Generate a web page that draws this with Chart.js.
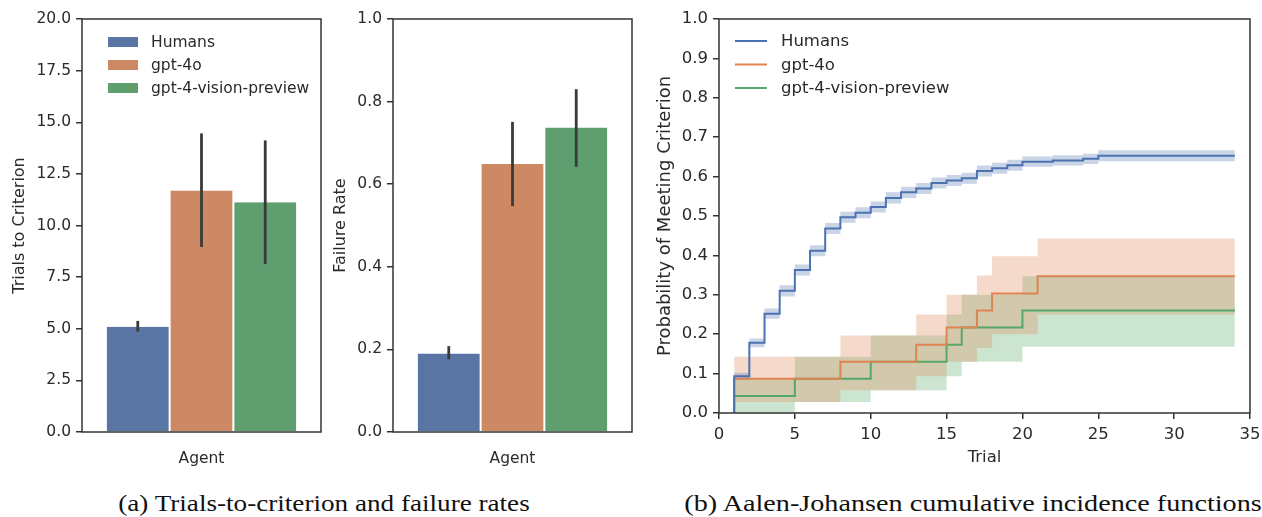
<!DOCTYPE html>
<html>
<head>
<meta charset="utf-8">
<script src="https://cdn.jsdelivr.net/npm/chart.js@4.4.1/dist/chart.umd.min.js"></script>
<style>
  body { margin: 0; background: #fff; width: 1262px; height: 517px; position: relative; overflow: hidden; }
  canvas { position: absolute; top: 0; }
  .cap { position: absolute; top: 491px; line-height: 26px; font-family: 'Liberation Serif', serif; font-size: 23px; color: #111; white-space: nowrap; text-align: center; }
</style>
</head>
<body>
<canvas id="trials-canvas" width="330" height="480" style="left:0"></canvas>
<canvas id="fail-canvas" width="315" height="480" style="left:325px"></canvas>
<canvas id="cif-canvas" width="622" height="480" style="left:640px"></canvas>
<div class="cap" style="left:24px;width:600px;transform:scaleX(1.18)">(a) Trials-to-criterion and failure rates</div>
<div class="cap" style="left:673px;width:600px;transform:scaleX(1.225)">(b) Aalen-Johansen cumulative incidence functions</div>
<script>
// --- data -------------------------------------------------------------
const AGENTS = ['Humans', 'gpt-4o', 'gpt-4-vision-preview'];

const TRIALS_MEAN = [5.10, 11.7, 11.12];
const TRIALS_LO   = [4.86, 8.96, 8.13];
const TRIALS_HI   = [5.38, 14.46, 14.12];

const FAIL_MEAN = [0.190, 0.649, 0.737];
const FAIL_LO   = [0.176, 0.547, 0.642];
const FAIL_HI   = [0.208, 0.751, 0.830];

// step points (value holds until the next trial)
const HUMAN_T  = [1, 1, 2, 3, 4, 5, 6, 7, 8, 9, 10, 11, 12, 13, 14, 15, 16, 17, 18, 19, 20, 22, 24, 25, 34];
const HUMAN_P  = [0, 0.093, 0.178, 0.252, 0.31, 0.363, 0.412, 0.468, 0.497, 0.508, 0.523, 0.546, 0.56, 0.57, 0.584, 0.59, 0.596, 0.614, 0.621, 0.629, 0.638, 0.641, 0.645, 0.653, 0.653];
const HUMAN_LO = [0, 0.084, 0.167, 0.239, 0.296, 0.349, 0.398, 0.454, 0.483, 0.494, 0.509, 0.532, 0.546, 0.556, 0.57, 0.576, 0.582, 0.6, 0.607, 0.615, 0.625, 0.628, 0.632, 0.639, 0.639];
const HUMAN_HI = [0, 0.102, 0.189, 0.265, 0.324, 0.377, 0.426, 0.482, 0.511, 0.522, 0.537, 0.56, 0.574, 0.584, 0.598, 0.604, 0.61, 0.628, 0.635, 0.643, 0.651, 0.654, 0.658, 0.667, 0.667];

const GPT4O_T  = [1, 1, 8, 13, 15, 17, 18, 21, 34];
const GPT4O_P  = [0, 0.087, 0.13, 0.173, 0.217, 0.26, 0.303, 0.347, 0.347];
const GPT4O_LO = [0, 0.028, 0.058, 0.093, 0.13, 0.165, 0.2, 0.25, 0.25];
const GPT4O_HI = [0, 0.143, 0.197, 0.25, 0.30, 0.349, 0.398, 0.443, 0.443];

const GPT4V_T  = [1, 1, 5, 10, 15, 16, 20, 34];
const GPT4V_P  = [0, 0.043, 0.087, 0.13, 0.173, 0.217, 0.26, 0.26];
const GPT4V_LO = [0, 0, 0.028, 0.058, 0.093, 0.13, 0.168, 0.168];
const GPT4V_HI = [0, 0.087, 0.143, 0.197, 0.25, 0.30, 0.347, 0.347];

// --- styling ----------------------------------------------------------
const LINE_COLORS = ['#4C72B0', '#DD8452', '#55A868'];
const BAND_COLORS = ['rgba(76,114,176,0.3)', 'rgba(221,132,82,0.3)', 'rgba(85,168,104,0.3)'];
const BAR_COLORS  = ['#5975A4', '#CC8963', '#5F9E6E'];
const TEXT = '#2a2a2a';
const AXIS = '#333333';

Chart.defaults.font.family = "'DejaVu Sans', sans-serif";
Chart.defaults.font.size = 15.5;
Chart.defaults.color = TEXT;
Chart.defaults.animation = false;

/** Full box around the plot area (seaborn "ticks" style). */
const frame = {
  id: 'frame',
  afterDraw(chart) {
    const { ctx, chartArea: a } = chart;
    ctx.save();
    ctx.strokeStyle = AXIS;
    ctx.lineWidth = 1.5;
    ctx.strokeRect(a.left, a.top, a.right - a.left, a.bottom - a.top);
    ctx.restore();
  }
};

/** Vertical CI whiskers on each bar. */
const errorBars = {
  id: 'errorBars',
  afterDatasetsDraw(chart) {
    const { ctx } = chart;
    const y = chart.scales.y;
    ctx.save();
    ctx.strokeStyle = '#3a3a3a';
    ctx.lineWidth = 2.8;
    chart.data.datasets.forEach((ds, i) => {
      const bar = chart.getDatasetMeta(i).data[0];
      ctx.beginPath();
      ctx.moveTo(bar.x, y.getPixelForValue(ds.ciLow));
      ctx.lineTo(bar.x, y.getPixelForValue(ds.ciHigh));
      ctx.stroke();
    });
    ctx.restore();
  }
};

/** Small legend drawn inside the plot area. */
const insideLegend = {
  id: 'insideLegend',
  afterDraw(chart, args, opts) {
    if (!opts || !opts.items) return;
    const { ctx } = chart;
    ctx.save();
    ctx.font = opts.fontSize + "px 'DejaVu Sans'";
    ctx.textBaseline = 'middle';
    opts.items.forEach((it, i) => {
      const yy = opts.y + i * opts.row;
      if (opts.kind === 'patch') {
        ctx.fillStyle = it.color;
        ctx.fillRect(opts.x, yy - 5, 30, 10);
      } else {
        ctx.strokeStyle = it.color;
        ctx.lineWidth = 2;
        ctx.beginPath();
        ctx.moveTo(opts.x, yy);
        ctx.lineTo(opts.x + 32, yy);
        ctx.stroke();
      }
      ctx.fillStyle = TEXT;
      ctx.fillText(it.label, opts.textX, yy + 1);
    });
    ctx.restore();
  }
};

function tickGrid() {
  return { display: true, drawOnChartArea: false, drawTicks: true, tickLength: 6, color: AXIS, lineWidth: 1.5 };
}

// fixed box sizes so the plot areas land where the reference has them
function fixWidth(w) {
  return (s) => { s.width = w; s.paddingTop = 0; s.paddingBottom = 0; };
}
function fixHeight(h) {
  return (s) => { s.height = h; s.paddingLeft = 0; s.paddingRight = 0; };
}

function barChart(canvasId, means, los, his, yMax, yStep, yTitle, yWidth, titlePad, padRight, legend) {
  const datasets = AGENTS.map((name, i) => ({
    label: name,
    data: [means[i]],
    ciLow: los[i],
    ciHigh: his[i],
    backgroundColor: BAR_COLORS[i],
    borderColor: '#ffffff',
    borderWidth: { left: 1, right: 1, top: 0, bottom: 0 },
    categoryPercentage: 0.8,
    barPercentage: 1.0,
  }));
  return new Chart(document.getElementById(canvasId), {
    type: 'bar',
    data: { labels: ['Agent'], datasets },
    plugins: [errorBars, frame, insideLegend],
    options: {
      responsive: false,
      layout: { padding: { left: 0, right: padRight, top: 19, bottom: 0 } },
      plugins: {
        legend: { display: false },
        tooltip: { enabled: false },
        insideLegend: legend,
      },
      scales: {
        x: {
          grid: { display: false },
          border: { display: false },
          ticks: { display: false },
          title: { display: true, text: 'Agent', color: TEXT, padding: { top: 0, bottom: 11.5 } },
          afterFit: fixHeight(48),
        },
        y: {
          min: 0, max: yMax,
          grid: tickGrid(),
          border: { display: false },
          ticks: { stepSize: yStep, padding: 5, color: TEXT, callback: (v) => v.toFixed(1) },
          title: { display: true, text: yTitle, color: TEXT, font: { size: 16 }, padding: { top: titlePad, bottom: titlePad } },
          afterFit: fixWidth(yWidth),
        }
      }
    }
  });
}

barChart('trials-canvas', TRIALS_MEAN, TRIALS_LO, TRIALS_HI, 20, 2.5, 'Trials to Criterion', 82, 10.5, 9,
  { kind: 'patch', x: 108, textX: 151, y: 42, row: 23, fontSize: 15.5,
    items: AGENTS.map((a, i) => ({ label: a, color: BAR_COLORS[i] })) });
barChart('fail-canvas', FAIL_MEAN, FAIL_LO, FAIL_HI, 1, 0.2, 'Failure Rate', 68, 6.4, 8, null);

// --- cumulative incidence ----------------------------------------------
function pts(ts, vs) { return ts.map((t, i) => ({ x: t, y: vs[i] })); }

const series = [
  [HUMAN_T, HUMAN_P, HUMAN_LO, HUMAN_HI],
  [GPT4O_T, GPT4O_P, GPT4O_LO, GPT4O_HI],
  [GPT4V_T, GPT4V_P, GPT4V_LO, GPT4V_HI],
];

const cifDatasets = [];
series.forEach(([t, p], i) => {
  cifDatasets.push({
    label: AGENTS[i], data: pts(t, p), stepped: true,
    borderColor: LINE_COLORS[i], borderWidth: 2, pointRadius: 0, fill: false, order: 0,
  });
});
series.forEach(([t, p, lo, hi], i) => {
  cifDatasets.push({
    label: AGENTS[i] + ' lo', data: pts(t, lo), stepped: true,
    borderWidth: 0, borderColor: 'rgba(0,0,0,0)', pointRadius: 0, fill: false, order: 1,
  });
  cifDatasets.push({
    label: AGENTS[i] + ' hi', data: pts(t, hi), stepped: true,
    borderWidth: 0, borderColor: 'rgba(0,0,0,0)', pointRadius: 0, order: 1,
    fill: '-1', backgroundColor: BAND_COLORS[i],
  });
});

new Chart(document.getElementById('cif-canvas'), {
  type: 'line',
  data: { datasets: cifDatasets },
  plugins: [frame, insideLegend],
  options: {
    responsive: false,
    layout: { padding: { left: 0, right: 12, top: 19, bottom: 0 } },
    plugins: {
      legend: { display: false },
      tooltip: { enabled: false },
      insideLegend: { kind: 'line', x: 95, textX: 141, y: 41, row: 23.5, fontSize: 16.5,
        items: AGENTS.map((a, i) => ({ label: a, color: LINE_COLORS[i] })) },
    },
    scales: {
      x: {
        type: 'linear', min: 0, max: 35,
        grid: tickGrid(),
        border: { display: false },
        ticks: { stepSize: 5, padding: 6, color: TEXT, font: { size: 16.5 } },
        title: { display: true, text: 'Trial', color: TEXT, font: { size: 16.5 }, padding: { top: 0, bottom: 12 } },
        afterFit: fixHeight(67),
      },
      y: {
        min: 0, max: 1,
        grid: tickGrid(),
        border: { display: false },
        ticks: { stepSize: 0.1, padding: 5, color: TEXT, font: { size: 16.5 }, callback: (v) => v.toFixed(1) },
        title: { display: true, text: 'Probability of Meeting Criterion', color: TEXT, font: { size: 18 }, padding: { top: 14.2, bottom: 14.2 } },
        afterFit: fixWidth(79),
      }
    }
  }
});
</script>
</body>
</html>
